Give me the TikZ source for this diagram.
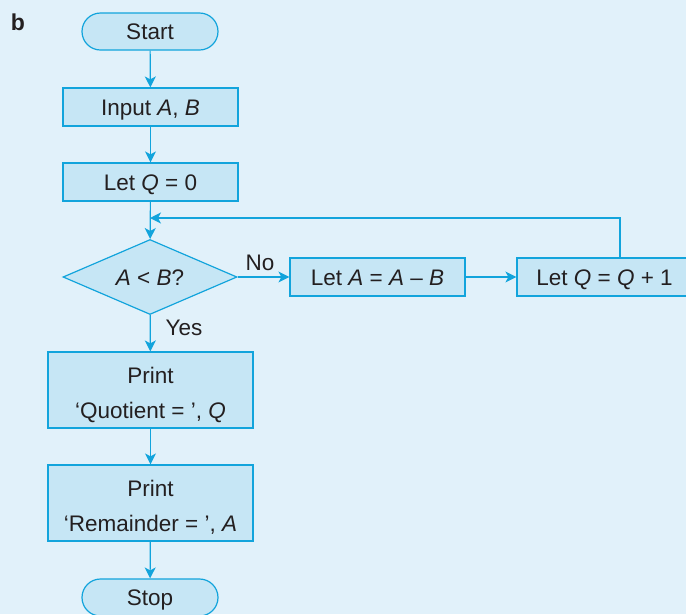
\documentclass[tikz,border=0pt]{standalone}
\usepackage{fontspec}
\setmainfont{Liberation Sans}
\usetikzlibrary{shapes.geometric,shapes.misc,arrows.meta}
\definecolor{bgc}{RGB}{225,241,250}
\definecolor{boxc}{RGB}{198,230,245}
\definecolor{linec}{RGB}{18,164,220}
\definecolor{txtc}{RGB}{35,31,32}
\newcommand{\twoline}[2]{\raisebox{0pt}[14pt][28pt]{\begin{tabular}[t]{@{}c@{}}#1\\#2\end{tabular}}}
\tikzset{
  base/.style={draw=linec, fill=boxc, line width=1.2pt, text=txtc, inner sep=0pt,
    font=\fontsize{22.5}{35}\selectfont},
  procbox/.style={base, rectangle, minimum width=175pt, minimum height=38pt, text height=16pt, text depth=0pt},
  tallbox/.style={base, rectangle, minimum width=205pt, minimum height=76pt},
  termbox/.style={base, rounded rectangle, minimum width=136pt, minimum height=37pt, text height=16pt, text depth=0pt},
  decbox/.style={base, diamond, minimum width=174pt, minimum height=75pt},
  arr/.style={draw=linec, line width=1.2pt, -{Stealth[length=11pt,width=11pt,inset=3pt]}},
  lbl/.style={text=txtc, font=\fontsize{22.5}{26}\selectfont, inner sep=0pt}
}
\begin{document}
\begin{tikzpicture}[x=1pt,y=1pt]
\useasboundingbox (0,0) rectangle (686,-614);
\fill[bgc] (0,0) rectangle (686,-614);
\clip (0,0) rectangle (686,-614);
\node[text=txtc, font=\fontsize{23}{26}\selectfont\bfseries] (b) at (18,-22) {b};
\node[termbox] (start) at (150,-31.5) {Start};
\node[procbox] (inp) at (150.5,-107) {Input \textit{A}, \textit{B}};
\node[procbox] (q0) at (150.5,-182) {Let \textit{Q} = 0};
\node[decbox, label={[lbl, text height=16pt, text depth=0pt]center:\textit{A} < \textit{B}?}] (dec) at (150,-277) {};
\node[procbox] (sub) at (377.5,-277) {Let \textit{A} = \textit{A} – \textit{B}};
\node[procbox] (inc) at (604.5,-277) {Let \textit{Q} = \textit{Q} + 1};
\node[tallbox] (p1) at (150.5,-390) {\twoline{Print}{‘Quotient = ’, \textit{Q}}};
\node[tallbox] (p2) at (150.5,-503) {\twoline{Print}{‘Remainder = ’, \textit{A}}};
\node[termbox] (stop) at (150,-597.5) {Stop};
\coordinate (j) at (150,-218);
\coordinate (up) at (620,-218);
\draw[arr] (start) -- (inp);
\draw[arr] (inp) -- (q0);
\draw[arr] (q0) -- (dec);
\draw[arr] (dec.east) -- (sub.west);
\draw[arr] (sub) -- (inc);
\draw[arr] (inc.north -| up) -- (up) -- (j);
\draw[arr] (dec) -- (p1);
\draw[arr] (p1) -- (p2);
\draw[arr] (p2) -- (stop);
\node[lbl] (no) at (260,-263) {No};
\node[lbl] (yes) at (184,-328) {Yes};
\end{tikzpicture}
\end{document}
